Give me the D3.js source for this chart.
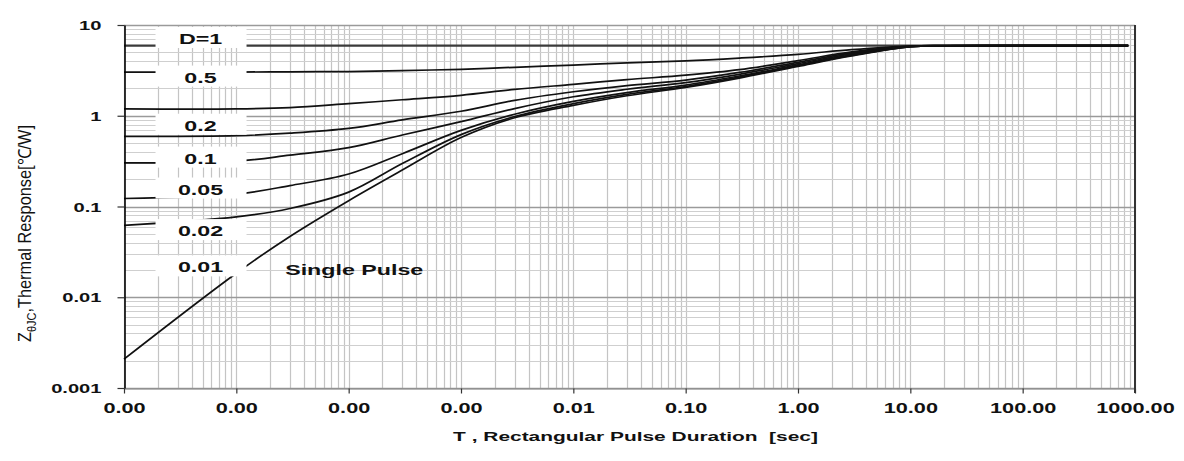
<!DOCTYPE html>
<html>
<head>
<meta charset="utf-8">
<script src="https://cdn.jsdelivr.net/npm/d3@7"></script>
<style>
body { margin: 0; background: #fff; }
text { font-family: "Liberation Sans", Arial, sans-serif; }
</style>
</head>
<body>
<svg id="chart" width="1184" height="461"></svg>
<script>
var pulse_t = [1e-6, 1e-5, 3e-5, 1e-4, 3e-4, 1e-3, 3e-3, 1e-2, 3e-2, 1e-1, 3e-1, 1, 3, 10, 20, 100, 870];

// Z(thJC) [C/W] for each duty cycle
var z_d1    = [5.93, 5.93, 5.93, 5.93, 5.93, 5.93, 5.93, 5.93, 5.93, 5.93, 5.93, 5.93, 5.93, 5.93, 5.93, 5.93, 5.93];
var z_d05   = [3.02, 3.03, 3.05, 3.07, 3.15, 3.25, 3.42, 3.62, 3.82, 4.02, 4.32, 4.75, 5.35, 5.86, 5.93, 5.93, 5.93];
var z_d02   = [1.19, 1.19, 1.23, 1.36, 1.50, 1.68, 1.95, 2.22, 2.50, 2.80, 3.22, 4.05, 5.05, 5.84, 5.92, 5.93, 5.93];
var z_d01   = [0.593, 0.603, 0.643, 0.725, 0.90, 1.12, 1.48, 1.84, 2.15, 2.47, 3.00, 3.88, 4.92, 5.82, 5.92, 5.93, 5.93];
var z_d005  = [0.302, 0.316, 0.368, 0.445, 0.614, 0.86, 1.20, 1.62, 1.96, 2.32, 2.86, 3.75, 4.80, 5.80, 5.91, 5.93, 5.93];
var z_d002  = [0.1225, 0.137, 0.170, 0.228, 0.382, 0.69, 1.04, 1.44, 1.80, 2.18, 2.74, 3.64, 4.70, 5.79, 5.91, 5.93, 5.93];
var z_d001  = [0.0618, 0.0767, 0.095, 0.144, 0.297, 0.62, 0.98, 1.36, 1.72, 2.10, 2.66, 3.57, 4.62, 5.78, 5.91, 5.93, 5.93];
var z_single = [0.00208, 0.0184, 0.0468, 0.116, 0.252, 0.575, 0.95, 1.30, 1.66, 2.05, 2.60, 3.50, 4.55, 5.76, 5.90, 5.93, 5.93];

var curve_labels = ['D=1', '0.5', '0.2', '0.1', '0.05', '0.02', '0.01'];
// label baselines, in chart units (t, Z)
var label_t = 4.8e-6;
var label_z = [6.18, 2.32, 0.684, 0.297, 0.1355, 0.0472, 0.0188];
var single_label = 'Single Pulse';
var single_t = 2.72e-5;
var single_z = 0.0175;

var x_tick_vals = [1e-6, 1e-5, 1e-4, 1e-3, 1e-2, 1e-1, 1, 10, 100, 1000];
var x_tick_labels = ['0.00', '0.00', '0.00', '0.00', '0.01', '0.10', '1.00', '10.00', '100.00', '1000.00'];
var y_tick_vals = [0.001, 0.01, 0.1, 1, 10];
var y_tick_labels = ['0.001', '0.01', '0.1', '1', '10'];

var plot_left = 124, plot_right = 1135, plot_top = 25, plot_bottom = 388;
var SX = 1.55; // the original picture is stretched sideways

var svg = d3.select('#chart');

var x = d3.scaleLog().domain([1e-6, 1e3]).range([plot_left, plot_right]);
var y = d3.scaleLog().domain([1e-3, 10]).range([plot_bottom, plot_top]);

var is_decade = function(v) {
	var l = Math.log10(v);
	return Math.abs(l - Math.round(l)) < 1e-6;
}

var draw_grid = function() {
	var gx = x.ticks(10);
	var gy = y.ticks(10);

	svg.append('g').selectAll('line')
	    .data(gx)
	    .enter()
	    .append('line')
	    .attr('x1', function(d) { return Math.round(x(d)) + 0.5; })
	    .attr('x2', function(d) { return Math.round(x(d)) + 0.5; })
	    .attr('y1', plot_top)
	    .attr('y2', plot_bottom)
	    .attr('stroke', '#c4c4c4')
	    .attr('stroke-width', 1.2);

	svg.append('g').selectAll('line')
	    .data(gy)
	    .enter()
	    .append('line')
	    .attr('x1', plot_left)
	    .attr('x2', plot_right)
	    .attr('y1', function(d) { return Math.round(y(d)) + 0.5; })
	    .attr('y2', function(d) { return Math.round(y(d)) + 0.5; })
	    .attr('stroke', function(d) { return is_decade(d) ? '#9a9a9a' : '#cfcfcf'; })
	    .attr('stroke-width', function(d) { return is_decade(d) ? 1.4 : 1.1; });
}

var draw_curves = function() {
	var series = [z_d05, z_d02, z_d01, z_d005, z_d002, z_d001, z_single];
	var line = d3.line()
	    .x(function(d, i) { return x(pulse_t[i]); })
	    .y(function(d) { return y(d); })
	    .curve(d3.curveCatmullRom.alpha(0.5));

	svg.append('path')
	    .attr('d', line(z_d1))
	    .attr('fill', 'none')
	    .attr('stroke', '#3a3a3a')
	    .attr('stroke-width', 2.2);

	svg.append('g').selectAll('path')
	    .data(series)
	    .enter()
	    .append('path')
	    .attr('d', function(d) { return line(d); })
	    .attr('fill', 'none')
	    .attr('stroke', '#111')
	    .attr('stroke-width', 1.7);
}

var draw_labels = function() {
	var cx = x(label_t);
	var g = svg.append('g');

	// white boxes hide grid and curves behind the duty labels
	g.selectAll('rect')
	    .data(label_z)
	    .enter()
	    .append('rect')
	    .attr('x', cx - 45)
	    .attr('y', function(d) { return y(d) - 17; })
	    .attr('width', 91)
	    .attr('height', 21)
	    .attr('fill', '#fff');

	g.selectAll('text')
	    .data(curve_labels)
	    .enter()
	    .append('text')
	    .attr('transform', function(d, i) {
	        return 'translate(' + cx + ',' + y(label_z[i]) + ') scale(' + SX + ',1)';
	    })
	    .attr('text-anchor', 'middle')
	    .style('font-size', '15px')
	    .style('font-weight', 'bold')
	    .attr('fill', '#111')
	    .text(function(d) { return d; });

	svg.append('text')
	    .attr('transform', 'translate(' + x(single_t) + ',' + y(single_z) + ') scale(' + SX + ',1)')
	    .style('font-size', '15px')
	    .style('font-weight', 'bold')
	    .attr('fill', '#111')
	    .text(single_label);
}

var draw_axes = function() {
	var x_axis = d3.axisBottom(x)
	    .tickValues(x_tick_vals)
	    .tickFormat(function(d, i) { return x_tick_labels[i]; })
	    .tickSize(5)
	    .tickSizeOuter(0);

	var gx = svg.append('g')
	    .attr('transform', 'translate(0,' + (plot_bottom + 0.5) + ')')
	    .call(x_axis);
	gx.select('.domain').attr('stroke', '#888').attr('stroke-width', 1.2);
	gx.selectAll('.tick line').attr('stroke', '#333').attr('stroke-width', 1.2);
	gx.selectAll('.tick text')
	    .attr('y', 25)
	    .attr('dy', null)
	    .attr('transform', 'scale(' + SX + ',1)')
	    .attr('fill', '#111')
	    .style('font-size', '14px')
	    .style('font-weight', 'bold');

	var y_axis = d3.axisLeft(y)
	    .tickValues(y_tick_vals)
	    .tickFormat(function(d, i) { return y_tick_labels[i]; })
	    .tickSize(7)
	    .tickSizeOuter(0);

	var gy = svg.append('g')
	    .attr('transform', 'translate(' + (plot_left + 0.5) + ',0)')
	    .call(y_axis);
	gy.select('.domain').attr('stroke', '#000').attr('stroke-width', 1.6);
	gy.selectAll('.tick line').attr('stroke', '#333').attr('stroke-width', 1.2);
	gy.selectAll('.tick text')
	    .attr('x', -23 / SX)
	    .attr('dy', '0.35em')
	    .attr('transform', 'scale(' + SX + ',1)')
	    .attr('fill', '#111')
	    .style('font-size', '13px')
	    .style('font-weight', 'bold');

	// right frame
	svg.append('line')
	    .attr('x1', plot_right).attr('x2', plot_right)
	    .attr('y1', plot_top).attr('y2', plot_bottom + 5)
	    .attr('stroke', '#333')
	    .attr('stroke-width', 2);

	// axis titles
	svg.append('text')
	    .attr('transform', 'translate(635.5,441) scale(' + SX + ',1)')
	    .attr('text-anchor', 'middle')
	    .style('font-size', '13.5px')
	    .style('font-weight', 'bold')
	    .style('white-space', 'pre')
	    .attr('fill', '#111')
	    .text('T , Rectangular Pulse Duration  [sec]');

	var yt = svg.append('text')
	    .attr('transform', 'translate(31,233.5) scale(1.2,1) rotate(-90)')
	    .attr('text-anchor', 'middle')
	    .attr('textLength', 217)
	    .attr('lengthAdjust', 'spacingAndGlyphs')
	    .style('font-size', '15px')
	    .attr('fill', '#111');
	yt.append('tspan').text('Z');
	yt.append('tspan').attr('dy', 4).style('font-size', '10px').text('θJC');
	yt.append('tspan').attr('dy', -4).text(',Thermal Response[℃/W]');
}

draw_grid();
draw_curves();
draw_labels();
draw_axes();
</script>
</body>
</html>
